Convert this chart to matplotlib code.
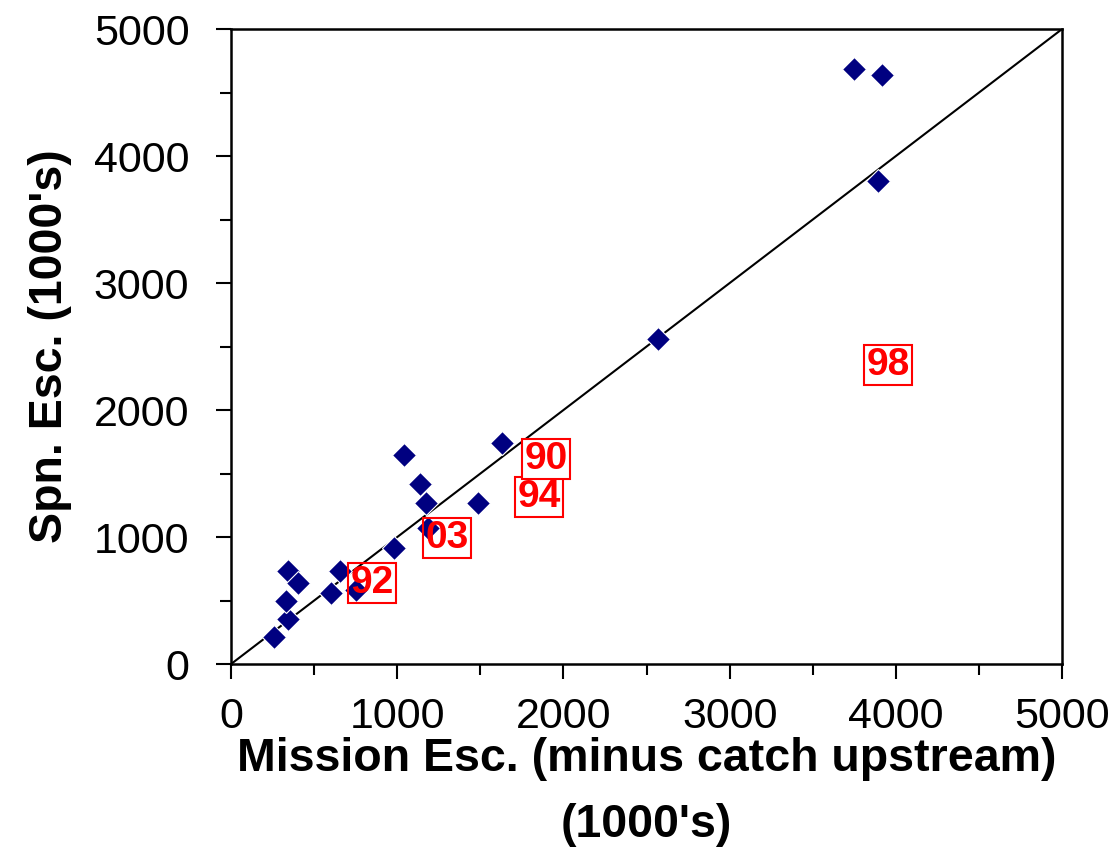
import matplotlib.pyplot as plt
from matplotlib.ticker import MultipleLocator

plt.rcParams['font.family'] = ['Liberation Sans', 'DejaVu Sans']

# mission escapement (minus catch upstream), 1000's
mission = [257, 345, 331, 345, 405, 602, 654, 752, 979, 1039,
           1137, 1173, 1183, 1484, 1629, 2569, 3749, 3915, 3891]
# spawning escapement, 1000's
spawn = [215, 354, 499, 735, 635, 559, 735, 583, 916, 1646,
         1415, 1265, 1068, 1270, 1743, 2562, 4687, 4640, 3806]

# year labels drawn in red boxes
year_labels = ['98', '94', '90', '03', '92']
year_x = [3953, 1853, 1895, 1300, 848]
year_y = [2354, 1315, 1614, 992, 638]

fig = plt.figure(figsize=(11.14, 8.67), dpi=100)
ax = fig.add_axes([0.2074, 0.2341, 0.7460, 0.7324])

ax.plot([0, 5000], [0, 5000], color='black', lw=1.5, zorder=2)
ax.plot(mission, spawn, 'D', color='#000080', markersize=12.5,
        markeredgecolor='white', markeredgewidth=0.8, zorder=3)

for lab, x, y in zip(year_labels, year_x, year_y):
    fc = 'white' if lab == '90' else 'none'
    ax.text(x, y, lab, color='red', fontsize=28, fontweight='bold',
            ha='center', va='center', zorder=4,
            bbox=dict(boxstyle='square,pad=0.06', facecolor=fc,
                      edgecolor='red', linewidth=1.5))

ax.set_xlim(0, 5000)
ax.set_ylim(0, 5000)
ax.xaxis.set_major_locator(MultipleLocator(1000))
ax.yaxis.set_major_locator(MultipleLocator(1000))
ax.xaxis.set_minor_locator(MultipleLocator(500))
ax.yaxis.set_minor_locator(MultipleLocator(500))
ax.tick_params(which='major', direction='out', length=11, width=1.5,
               labelsize=31)
ax.tick_params(axis='y', which='major', pad=19)
ax.tick_params(axis='x', which='major', pad=13)
ax.tick_params(which='minor', direction='out', length=8, width=1.5)
for s in ax.spines.values():
    s.set_linewidth(1.8)

ax.set_xlabel("Mission Esc. (minus catch upstream)\n(1000's)",
              fontsize=33.5, fontweight='bold', labelpad=0, linespacing=1.65)
ax.set_ylabel("Spn. Esc. (1000's)", fontsize=33.5, fontweight='bold',
              labelpad=16)

fig.savefig('out.png', dpi=100)
